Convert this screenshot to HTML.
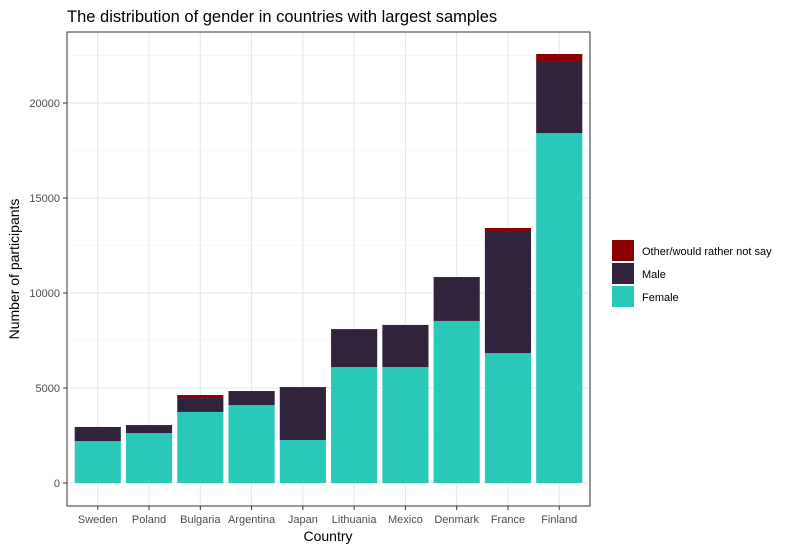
<!DOCTYPE html>
<html><head><meta charset="utf-8"><style>
body{margin:0;background:#fff;font-family:"Liberation Sans",sans-serif}
</style></head><body>
<svg width="800" height="550" xmlns="http://www.w3.org/2000/svg" id="svg" font-family="Liberation Sans, sans-serif">
<text x="67" y="22" font-size="16.5" fill="#000">The distribution of gender in countries with largest samples</text>
<g id="grid"></g><g id="bars"></g><g id="axes"></g>
<rect x="67" y="32" width="523" height="474" fill="none" stroke="#333" stroke-width="1"/>
<text x="328" y="541" font-size="14" text-anchor="middle">Country</text>
<text transform="translate(19,269) rotate(-90)" font-size="14" text-anchor="middle">Number of participants</text>
<g>
<rect x="612" y="240" width="22" height="21" fill="#8B0000"/>
<text x="642" y="255" font-size="11">Other/would rather not say</text>
<rect x="612" y="263" width="22" height="21" fill="#30233B"/>
<text x="642" y="278" font-size="11">Male</text>
<rect x="612" y="286" width="22" height="21" fill="#2AC8B9"/>
<text x="642" y="301" font-size="11">Female</text>
</g>
</svg>
<script>
const countries=["Sweden","Poland","Bulgaria","Argentina","Japan","Lithuania","Mexico","Denmark","France","Finland"];
const female=[2210,2630,3740,4100,2260,6100,6100,8530,6840,18420];
const male=[740,420,730,740,2790,2000,2220,2310,6370,3740];
const other=[0,0,160,0,0,0,0,0,210,420];
const yTicks=[0,5000,10000,15000,20000];
const NS="http://www.w3.org/2000/svg";
const x0=67,x1=590,step=(x1-x0)/(countries.length+0.2);
function y(v){return 483-v*0.019;}
function xc(i){return x0+step*(i+0.6);}
function mk(t,a,p){const e=document.createElementNS(NS,t);for(const k in a)e.setAttribute(k,a[k]);p.appendChild(e);return e;}
const g=document.getElementById('grid'),b=document.getElementById('bars'),ax=document.getElementById('axes');
for(let v=2500;v<23000;v+=5000){const l=mk('line',{x1:x0,x2:x1,y1:y(v),y2:y(v),stroke:'#f0f0f0','stroke-width':0.6},g);

}
yTicks.forEach(v=>{const l=mk('line',{x1:x0,x2:x1,y1:y(v),y2:y(v),stroke:'#e6e6e6','stroke-width':1},g);


const tk=mk('line',{x1:x0-4,x2:x0,y1:y(v),y2:y(v),stroke:'#333'},ax);


const t=mk('text',{x:x0-7,y:y(v)+4,'font-size':11,'text-anchor':'end',fill:'#4d4d4d'},ax);t.textContent=v;

});
countries.forEach((c,i)=>{const cx=xc(i),w=step*0.9;
const l=mk('line',{x1:cx,x2:cx,y1:32,y2:506,stroke:'#e6e6e6'},g);


const segs=[[female[i],'#2AC8B9','female'],[male[i],'#30233B','male'],[other[i],'#8B0000','other']];let base=0;
segs.forEach(s=>{if(s[0]>0){const r=mk('rect',{x:cx-w/2,width:w,y:y(base+s[0]),height:y(base)-y(base+s[0]),fill:s[1]},b);

}base+=s[0];});
const tk=mk('line',{x1:cx,x2:cx,y1:506,y2:510,stroke:'#333'},ax);


const t=mk('text',{x:cx,y:523,'font-size':11,'text-anchor':'middle',fill:'#4d4d4d'},ax);t.textContent=c;

});
</script>
</body></html>
